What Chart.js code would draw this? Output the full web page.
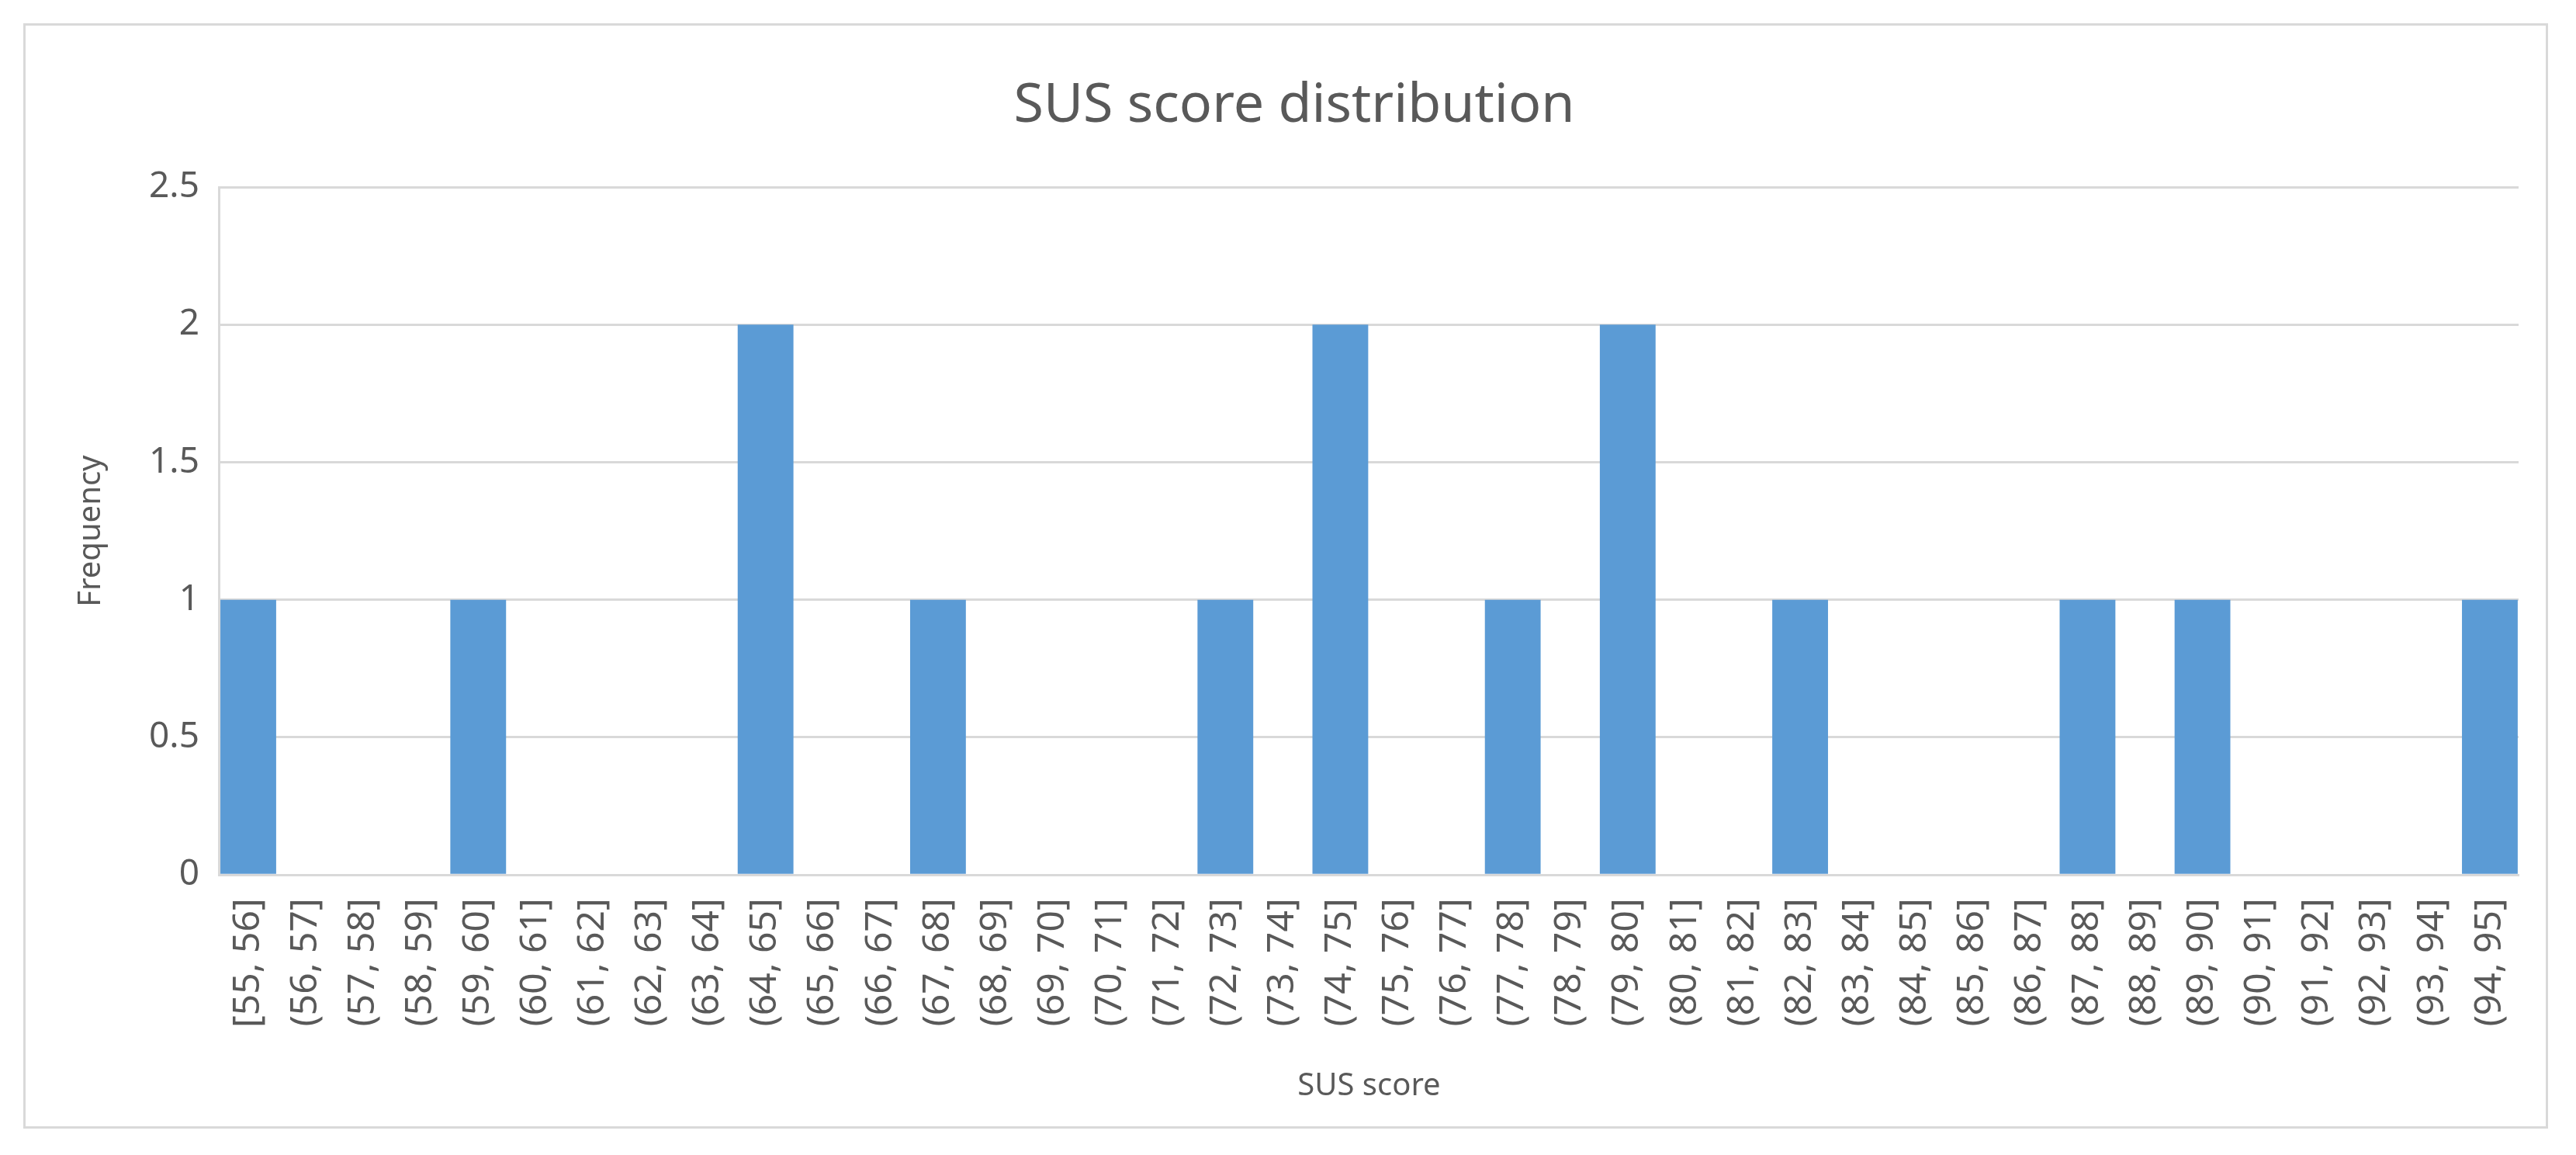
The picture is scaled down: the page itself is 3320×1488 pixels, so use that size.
<!DOCTYPE html>
<html><head><meta charset="utf-8">
<script src="https://cdn.jsdelivr.net/npm/chart.js@4"></script>
<style>
html,body{margin:0;padding:0;background:#fff;}
#wrap{position:absolute;left:0;top:0;width:3320px;height:1488px;}
#frame{position:absolute;left:30px;top:30px;width:3254px;height:1424px;border:3px solid #d9d9d9;box-sizing:border-box;}
</style></head><body>
<div id="wrap"><div id="frame"></div><canvas id="c" width="3320" height="1488"></canvas></div>
<script>
const categories = ["[55, 56]","(56, 57]","(57, 58]","(58, 59]","(59, 60]","(60, 61]","(61, 62]","(62, 63]","(63, 64]","(64, 65]","(65, 66]","(66, 67]","(67, 68]","(68, 69]","(69, 70]","(70, 71]","(71, 72]","(72, 73]","(73, 74]","(74, 75]","(75, 76]","(76, 77]","(77, 78]","(78, 79]","(79, 80]","(80, 81]","(81, 82]","(82, 83]","(83, 84]","(84, 85]","(85, 86]","(86, 87]","(87, 88]","(88, 89]","(89, 90]","(90, 91]","(91, 92]","(92, 93]","(93, 94]","(94, 95]"];
const frequency = [1,0,0,0,1,0,0,0,0,2,0,0,1,0,0,0,0,1,0,2,0,0,1,0,2,0,0,1,0,0,0,0,1,0,1,0,0,0,0,1];
const yTicks = [0,0.5,1,1.5,2,2.5];
const FONT = "'Noto Sans', sans-serif";
new Chart(document.getElementById('c'), {
  type:'bar',
  data:{labels:categories, datasets:[{data:frequency, backgroundColor:'#5b9bd5', barPercentage:0.97, categoryPercentage:1}]},
  options:{
    responsive:false, animation:false, devicePixelRatio:1,
    layout:{padding:{left:90,right:74,top:50,bottom:60}},
    plugins:{legend:{display:false},tooltip:{enabled:false},
      title:{display:true,text:'SUS score distribution',color:'#595959',font:{family:FONT,size:70,weight:'normal'},padding:{top:45,bottom:62}}},
    scales:{
      x:{grid:{display:false},border:{color:'#d9d9d9',width:3},
        ticks:{color:'#595959',font:{family:FONT,size:48},maxRotation:90,minRotation:90,autoSkip:false,padding:22},
        title:{display:true,text:'SUS score',color:'#595959',font:{family:FONT,size:40},padding:{top:30}}},
      y:{min:0,max:2.5,afterBuildTicks:(s)=>{s.ticks=yTicks.map(v=>({value:v}));},
        grid:{color:'#d9d9d9',lineWidth:3,drawTicks:false},border:{color:'#d9d9d9',width:3},
        ticks:{color:'#595959',font:{family:FONT,size:46},padding:26,callback:(v)=>String(v)},
        title:{display:true,text:'Frequency',color:'#595959',font:{family:FONT,size:40},padding:{bottom:24}}}
    }
  }
});
</script></body></html>
